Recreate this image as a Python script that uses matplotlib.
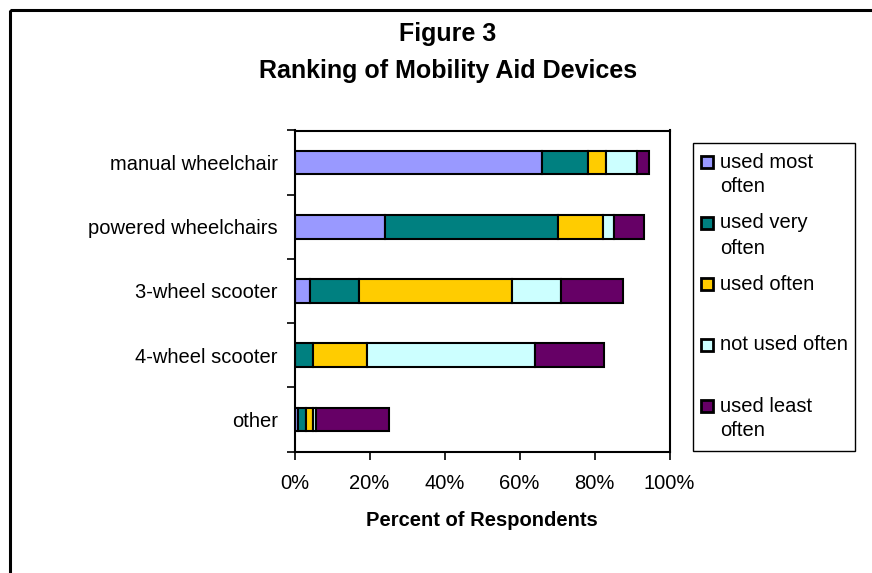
import numpy as np
import matplotlib.pyplot as plt
from matplotlib.patches import Rectangle

plt.rcParams['font.family'] = 'Liberation Sans'

categories = ["manual wheelchair", "powered wheelchairs", "3-wheel scooter",
              "4-wheel scooter", "other"]
series_names = ["used most often", "used very often", "used often",
                "not used often", "used least often"]
used_most = [66.1, 24.0, 4.1, 0.0, 0.9]
used_very = [12.1, 46.2, 13.1, 5.0, 2.1]
used_often = [4.9, 12.0, 40.9, 14.2, 1.8]
not_used_often = [8.1, 3.0, 13.0, 45.0, 1.0]
used_least = [3.2, 8.1, 16.4, 18.2, 19.4]
x_ticks = [0, 20, 40, 60, 80, 100]

colors = ["#9999FF", "#008080", "#FFCC00", "#CCFFFF", "#660066"]
series = [used_most, used_very, used_often, not_used_often, used_least]

fs = 14.5

fig = plt.figure(figsize=(8.72, 5.73), dpi=100)

# background layer in pixel coords: frame, titles, legend
bg = fig.add_axes([0, 0, 1, 1])
bg.set_xlim(0, 872)
bg.set_ylim(573, 0)
bg.axis('off')
bg.add_patch(Rectangle((10, 10), 900, 600, fill=False, lw=2.2, ec='black'))
bg.text(448, 34, "Figure 3", ha='center', va='center', fontsize=18, fontweight='bold')
bg.text(448, 71, "Ranking of Mobility Aid Devices", ha='center', va='center',
        fontsize=18, fontweight='bold')
bg.text(482, 520, "Percent of Respondents", ha='center', va='center',
        fontsize=fs, fontweight='bold')

# plot
ax = fig.add_axes([294.5 / 872, 1 - 451.5 / 573, 375 / 872, 321 / 573])
y = np.arange(len(categories))
left = np.zeros(len(categories))
for vals, c, name in zip(series, colors, series_names):
    ax.barh(y, vals, left=left, height=0.37, color=c, edgecolor='black',
            linewidth=1.5, label=name)
    left += np.array(vals)

ax.set_xlim(0, 100)
ax.set_ylim(len(categories) - 0.5, -0.5)
ax.set_xticks(x_ticks)
ax.set_xticklabels([f"{v}%" for v in x_ticks], fontsize=fs)
ax.set_yticks(np.arange(-0.5, len(categories), 1))
ax.set_yticklabels([])
ax.set_yticks(y, minor=True)
ax.set_yticklabels(categories, minor=True, fontsize=fs)
ax.tick_params(axis='y', which='minor', length=0, pad=12)
ax.tick_params(axis='y', which='major', length=6, width=1.2)
ax.tick_params(axis='x', length=6, width=1.2, pad=10)
for s in ax.spines.values():
    s.set_linewidth(1.5)

# legend drawn by hand so the labels wrap like the original
bg.add_patch(Rectangle((693, 143), 162, 308, fill=False, lw=1, ec='black'))
legend_labels = ["used most\noften", "used very\noften", "used often",
                 "not used often", "used least\noften"]
for i, (lab, c) in enumerate(zip(legend_labels, colors)):
    ly = 162 + 61 * i
    bg.add_patch(Rectangle((701, ly - 6), 12, 12, fc=c, ec='black', lw=2))
    for j, line in enumerate(lab.split("\n")):
        bg.text(720, ly + 25 * j, line, va='center', fontsize=fs)

fig.savefig("out.png", dpi=100)
